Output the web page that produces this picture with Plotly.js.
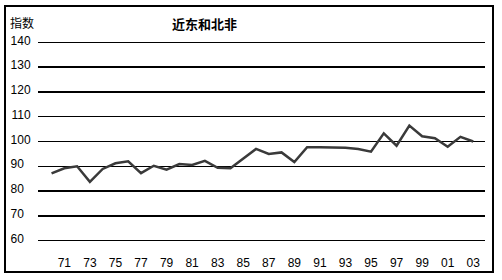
<!DOCTYPE html>
<html>
<head>
<meta charset="utf-8">
<script src="https://cdn.plot.ly/plotly-3.0.1.min.js"></script>
<style>
  html, body { margin: 0; padding: 0; background: #fff; }
  #wrap { position: relative; width: 502px; height: 280px; }
  #chart { position: absolute; left: 0; top: 0; width: 502px; height: 280px; }
  #frame { position: absolute; left: 4px; top: 5px; width: 486px; height: 264px;
           border: 2px solid #000; pointer-events: none; }
</style>
</head>
<body>
<div id="wrap">
  <div id="chart"></div>
  <div id="frame"></div>
</div>
<script>
// Data (index, 1970-2003)
const years = [1970,1971,1972,1973,1974,1975,1976,1977,1978,1979,
               1980,1981,1982,1983,1984,1985,1986,1987,1988,1989,
               1990,1991,1992,1993,1994,1995,1996,1997,1998,1999,
               2000,2001,2002,2003];
const values = [87.1,89.2,90.0,83.7,88.9,91.2,92.0,87.2,90.2,88.6,
                90.9,90.5,92.2,89.4,89.2,93.0,97.0,95.0,95.6,91.7,
                97.7,97.7,97.7,97.5,97.0,95.9,103.3,98.3,106.4,102.1,
                101.3,97.9,101.9,100.0];
const xTickVals = [1971,1973,1975,1977,1979,1981,1983,1985,1987,1989,1991,1993,1995,1997,1999,2001,2003];
const xTickText = ['71','73','75','77','79','81','83','85','87','89','91','93','95','97','99','01','03'];
const yTickVals = [60,70,80,90,100,110,120,130,140];
const yTickText = ['60\u00a0\u00a0','70\u00a0\u00a0','80\u00a0\u00a0','90\u00a0\u00a0','100','110','120','130','140'];
const titleText = '近东和北非';
const yTitleText = '指数';

const trace = {
  x: years, y: values, type: 'scatter', mode: 'lines',
  line: { color: '#3a3a3a', width: 2.5 },
  hoverinfo: 'skip'
};

const layout = {
  width: 502, height: 280,
  margin: { l: 38, r: 17, t: 40, b: 37 },
  paper_bgcolor: '#fff', plot_bgcolor: '#fff',
  showlegend: false,
  font: { family: 'Liberation Sans, Arial, sans-serif', size: 12, color: '#000' },
  xaxis: {
    range: [1968.94, 2003.92],
    tickmode: 'array', tickvals: xTickVals, ticktext: xTickText,
    showgrid: false, zeroline: false, showline: false,
    ticks: 'outside', ticklen: 9, tickcolor: 'rgba(0,0,0,0)',
    tickfont: { size: 12, color: '#000' }
  },
  yaxis: {
    range: [59, 141],
    tickmode: 'array', tickvals: yTickVals, ticktext: yTickText,
    showgrid: true, gridcolor: '#000', gridwidth: 1.5,
    zeroline: false, showline: false,
    ticks: 'outside', ticklen: 4, tickcolor: 'rgba(0,0,0,0)',
    ticklabelshift: -2,
    tickfont: { size: 12, color: '#000' }
  },
  annotations: [
    { text: '<b>' + titleText + '</b>', xref: 'paper', yref: 'paper',
      x: 0.373, y: 1.0, xanchor: 'center', yanchor: 'bottom', yshift: 5, showarrow: false,
      font: { family: 'Noto Sans CJK SC', size: 13, color: '#000' } },
    { text: yTitleText, xref: 'paper', yref: 'paper',
      x: 0, y: 1.0, xanchor: 'left', yanchor: 'bottom', xshift: -30, yshift: 7, showarrow: false,
      font: { family: 'Noto Sans CJK SC', size: 12, color: '#000' } }
  ]
};

Plotly.newPlot('chart', [trace], layout, { staticPlot: true, displayModeBar: false });
</script>
</body>
</html>
